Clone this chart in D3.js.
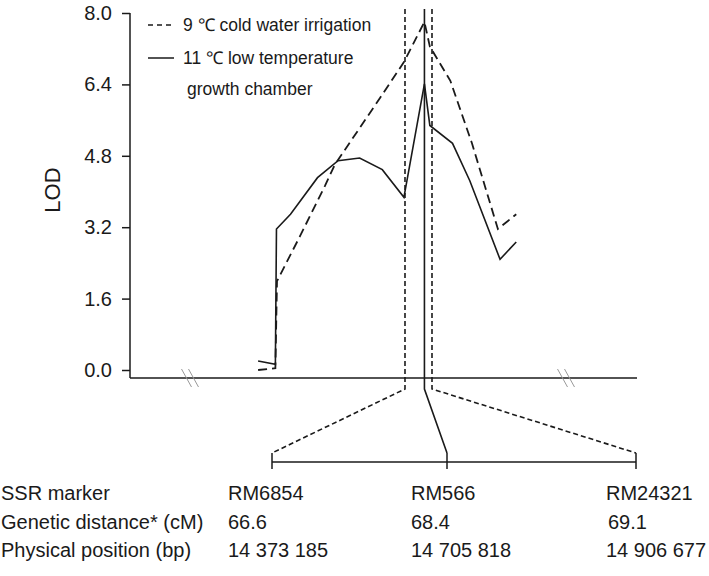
<!DOCTYPE html>
<html>
<head>
<meta charset="utf-8">
<script src="https://cdn.jsdelivr.net/npm/d3@7"></script>
<style>
  body { margin: 0; background: #fff; }
  text { font-family: "Liberation Sans", Arial, sans-serif; fill: #1a1a1a; }
</style>
</head>
<body>
<div id="chart"></div>
<script>
// Marker table
const MARKERS = ["RM6854", "RM566", "RM24321"];
const MARKER_CM = [66.6, 68.4, 69.1];
const MARKER_BP = [14373185, 14705818, 14906677];
const ROW_LABELS = ["SSR marker", "Genetic distance* (cM)", "Physical position (bp)"];

// LOD profiles (position in cM, LOD)
const CM_COLD = [53.0, 54.6, 54.75, 56.9, 59.2, 60.1, 61.5, 64.3, 66.5, 68.4, 68.9, 70.8, 72.8, 75.2, 76.9];
const LOD_COLD = [0.0, 0.04, 1.99, 3.01, 4.13, 4.60, 5.10, 6.10, 6.90, 7.80, 7.25, 6.48, 5.08, 3.16, 3.49];
const CM_CHAMBER = [53.0, 54.6, 54.7, 56.0, 58.5, 60.4, 62.4, 64.5, 66.5, 68.4, 68.9, 71.0, 72.6, 75.4, 76.9];
const LOD_CHAMBER = [0.20, 0.13, 3.16, 3.49, 4.31, 4.69, 4.75, 4.49, 3.87, 6.41, 5.48, 5.08, 4.24, 2.48, 2.87];

const Y_TICKS = [0, 1.6, 3.2, 4.8, 6.4, 8.0];

const INK = "#1a1a1a";
const width = 709, height = 576;

var svg = d3.select("#chart").append("svg")
  .attr("width", width)
  .attr("height", height);

// Scales
var x = d3.scaleLinear().domain([41.14, 88.08]).range([130, 637]);
var y = d3.scaleLinear().domain([0, 8]).range([370, 13]);
var xBottom = d3.scaleLinear().domain(MARKER_BP).range([272, 447, 636]);

var axisY = 378;

// Y axis
var yAxis = svg.append("g")
  .attr("transform", "translate(130,0)")
  .call(d3.axisLeft(y).tickValues(Y_TICKS).tickFormat(d3.format(".1f"))
    .tickSize(8).tickPadding(10).tickSizeOuter(0));
yAxis.select(".domain").remove();
yAxis.selectAll(".tick line").attr("stroke", INK).attr("stroke-width", 1.5);
yAxis.selectAll(".tick text")
  .style("font-size", "20px")
  .style("font-family", "'Liberation Sans', Arial, sans-serif")
  .attr("fill", INK);

svg.append("line")
  .attr("x1", 130).attr("x2", 130)
  .attr("y1", y(8)).attr("y2", axisY)
  .attr("stroke", INK).attr("stroke-width", 1.5);

// X axis (plain line)
svg.append("line")
  .attr("x1", 130).attr("x2", 637)
  .attr("y1", axisY).attr("y2", axisY)
  .attr("stroke", INK).attr("stroke-width", 1.5);

// Axis break marks
[190, 566].forEach(function (bx) {
  [-3.5, 3.5].forEach(function (off) {
    svg.append("line")
      .attr("x1", bx + off - 5).attr("y1", axisY - 9)
      .attr("x2", bx + off + 5).attr("y2", axisY + 9)
      .attr("stroke", "#999").attr("stroke-width", 1);
  });
});

// LOD label
svg.append("text")
  .attr("transform", "translate(60,190) rotate(-90)")
  .attr("text-anchor", "middle")
  .style("font-size", "22px")
  .text("LOD");

// LOD curves
var line = d3.line()
  .x(function (d) { return x(d[0]); })
  .y(function (d) { return y(d[1]); });

svg.append("path")
  .datum(d3.zip(CM_COLD, LOD_COLD))
  .attr("d", line)
  .attr("fill", "none")
  .attr("stroke", INK)
  .attr("stroke-width", 1.8)
  .attr("stroke-dasharray", "9,5");

svg.append("path")
  .datum(d3.zip(CM_CHAMBER, LOD_CHAMBER))
  .attr("d", line)
  .attr("fill", "none")
  .attr("stroke", INK)
  .attr("stroke-width", 1.6);

// Marker lines running down to the map
var mapY = 462;
MARKER_CM.forEach(function (cm, i) {
  var mx = x(cm);
  var bx = xBottom(MARKER_BP[i]);
  var solid = i === 1;
  svg.append("path")
    .attr("d", d3.line()([[mx, 9], [mx, 389], [bx, mapY - 9]]))
    .attr("fill", "none")
    .attr("stroke", INK)
    .attr("stroke-width", 1.6)
    .attr("stroke-dasharray", solid ? null : "5,3");
});

// Physical map line with ticks
svg.append("line")
  .attr("x1", xBottom(MARKER_BP[0])).attr("x2", xBottom(MARKER_BP[2]))
  .attr("y1", mapY).attr("y2", mapY)
  .attr("stroke", INK).attr("stroke-width", 1.5);
svg.selectAll("line.maptick")
  .data(MARKER_BP)
  .enter()
  .append("line")
  .attr("class", "maptick")
  .attr("x1", function (d) { return xBottom(d); })
  .attr("x2", function (d) { return xBottom(d); })
  .attr("y1", mapY - 9).attr("y2", mapY + 7)
  .attr("stroke", INK).attr("stroke-width", 1.5);

// Legend
var legend = svg.append("g");
legend.append("line")
  .attr("x1", 148).attr("x2", 174).attr("y1", 25).attr("y2", 25)
  .attr("stroke", INK).attr("stroke-width", 1.5).attr("stroke-dasharray", "5,4");
legend.append("text").attr("x", 183).attr("y", 31)
  .style("font-size", "17.5px").text("9 \u2103 cold water irrigation");
legend.append("line")
  .attr("x1", 148).attr("x2", 174).attr("y1", 58).attr("y2", 58)
  .attr("stroke", INK).attr("stroke-width", 1.5);
legend.append("text").attr("x", 183).attr("y", 64)
  .style("font-size", "17.5px").text("11 \u2103 low temperature");
legend.append("text").attr("x", 187).attr("y", 95)
  .style("font-size", "17.5px").text("growth chamber");

// Marker table
const COL_X = [228, 411, 606];
const ROW_Y = [500, 529, 557];
var fmtBp = function (v) { return d3.format(",")(v).replace(/,/g, " "); };
var rows = [MARKERS, MARKER_CM.map(function (d) { return d.toFixed(1); }), MARKER_BP.map(fmtBp)];

ROW_LABELS.forEach(function (label, r) {
  svg.append("text").attr("x", 1).attr("y", ROW_Y[r])
    .style("font-size", "20px").text(label);
  rows[r].forEach(function (val, c) {
    svg.append("text").attr("x", COL_X[c] + (r === 1 && c === 2 ? 2 : 0)).attr("y", ROW_Y[r])
      .style("font-size", "20px").text(val);
  });
});
</script>
</body>
</html>
